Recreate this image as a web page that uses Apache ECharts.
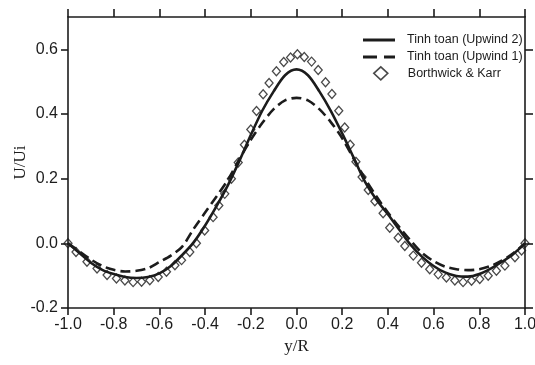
<!DOCTYPE html>
<html>
<head>
<meta charset="utf-8">
<script src="https://cdn.jsdelivr.net/npm/echarts@6/dist/echarts.min.js"></script>
<style>
html,body{margin:0;padding:0;background:#ffffff;}
#chart{width:535px;height:365px;}
</style>
</head>
<body>
<div id="chart"></div>
<script>
// ---- data ----
const xLine = [-1.0,-0.95,-0.9,-0.85,-0.8,-0.75,-0.7,-0.65,-0.6,-0.55,-0.5,-0.45,-0.4,-0.35,-0.3,-0.25,-0.2,-0.15,-0.1,-0.05,0,
               0.05,0.1,0.15,0.2,0.25,0.3,0.35,0.4,0.45,0.5,0.55,0.6,0.65,0.7,0.75,0.8,0.85,0.9,0.95,1.0];
const upwind2 = [0,-0.030,-0.060,-0.082,-0.095,-0.104,-0.107,-0.104,-0.093,-0.070,-0.036,0.003,0.055,0.115,0.180,0.255,0.335,0.410,0.470,0.520,0.538,
                 0.520,0.470,0.410,0.340,0.265,0.190,0.135,0.090,0.042,-0.005,-0.042,-0.070,-0.090,-0.101,-0.103,-0.095,-0.078,-0.057,-0.032,0];
const upwind1 = [0,-0.025,-0.050,-0.070,-0.082,-0.087,-0.085,-0.077,-0.058,-0.038,-0.010,0.045,0.095,0.145,0.197,0.260,0.320,0.372,0.415,0.442,0.450,
                 0.442,0.415,0.375,0.325,0.262,0.200,0.145,0.095,0.050,0.008,-0.030,-0.055,-0.072,-0.080,-0.083,-0.080,-0.070,-0.053,-0.030,0];
const xExp = [-1.0,-0.965,-0.917,-0.873,-0.829,-0.788,-0.751,-0.715,-0.678,-0.642,-0.605,-0.569,-0.532,-0.503,-0.467,-0.438,-0.402,-0.365,-0.340,-0.314,
              -0.285,-0.255,-0.228,-0.200,-0.175,-0.146,-0.120,-0.088,-0.056,-0.026,0.004,0.034,0.066,0.095,0.127,0.155,0.185,0.211,0.235,0.260,
              0.287,0.314,0.343,0.379,0.408,0.445,0.474,0.511,0.547,0.583,0.620,0.656,0.693,0.729,0.766,0.802,0.839,0.875,0.912,0.956,0.985,1.0];
const borthwick = [0.0,-0.027,-0.057,-0.078,-0.098,-0.109,-0.115,-0.120,-0.119,-0.114,-0.104,-0.088,-0.068,-0.052,-0.027,0.000,0.040,0.081,0.117,0.153,
                   0.200,0.250,0.305,0.352,0.409,0.461,0.496,0.532,0.561,0.575,0.585,0.576,0.562,0.536,0.498,0.462,0.410,0.358,0.305,0.252,
                   0.205,0.165,0.130,0.093,0.048,0.017,-0.008,-0.038,-0.060,-0.080,-0.096,-0.106,-0.115,-0.120,-0.116,-0.110,-0.100,-0.085,-0.069,-0.043,-0.022,0.0];
const yTicks = [-0.2,0.0,0.2,0.4,0.6];
const names = ['Tinh toan (Upwind 2)','Tinh toan (Upwind 1)','Borthwick & Karr'];

// ---- chart ----
const ink = '#1c1c1c';
const labelFont = {fontFamily:'Liberation Sans, Arial, sans-serif', fontSize:16, color:ink};
const axisLineStyle = {onZero:false, lineStyle:{color:ink, width:1.6}};
const legendText = {fontFamily:'Liberation Sans, Arial, sans-serif', fontSize:12.5, color:ink, lineHeight:14};
const chart = echarts.init(document.getElementById('chart'), null, {renderer:'canvas'});

const option = {
  backgroundColor:'#ffffff',
  animation:false,
  grid:{left:68, right:10, top:17, bottom:57, containLabel:false, outerBoundsMode:'none'},
  legend:[
    {
      data:[
        {name:names[0], icon:'path://M0,0H32V3H0Z'},
        {name:names[1], icon:'path://M0,0H14V3H0Z M21,0H32V3H21Z'}
      ],
      orient:'vertical', left:363, top:33,
      itemWidth:32, itemHeight:3, itemGap:3,
      padding:0,
      itemStyle:{color:ink, borderWidth:0},
      textStyle:Object.assign({padding:[0,0,0,7]}, legendText),
      selectedMode:false
    },
    {
      data:[{name:names[2]}],
      orient:'vertical', left:373, top:66,
      itemWidth:14, itemHeight:13,
      padding:0,
      itemStyle:{borderWidth:1.6},
      textStyle:Object.assign({padding:[0,0,0,15]}, legendText),
      selectedMode:false
    }
  ],
  xAxis:[
    {
      type:'value', min:-1, max:1, interval:0.2, position:'bottom',
      axisLine:axisLineStyle,
      axisTick:{show:true, inside:false, length:7, lineStyle:{color:ink, width:1.6}},
      axisLabel:Object.assign({margin:9, formatter:v=>v.toFixed(1)}, labelFont),
      splitLine:{show:false},
      name:'y/R', nameLocation:'middle', nameGap:24,
      nameTextStyle:{fontFamily:'Liberation Serif, Times New Roman, serif', fontSize:17, color:ink}
    },
    {
      type:'value', min:-1, max:1, interval:0.2, position:'top',
      axisLine:axisLineStyle,
      axisTick:{show:true, inside:false, length:8, lineStyle:{color:ink, width:1.6}},
      axisLabel:{show:false},
      splitLine:{show:false}
    }
  ],
  yAxis:[
    {
      type:'value', min:-0.2, max:0.7, position:'left',
      axisLine:axisLineStyle,
      axisTick:{show:true, inside:false, length:7, customValues:yTicks, lineStyle:{color:ink, width:1.6}},
      axisLabel:Object.assign({margin:10, customValues:yTicks, formatter:v=>v.toFixed(1)}, labelFont),
      splitLine:{show:false},
      name:'U/Ui', nameLocation:'middle', nameRotate:90, nameGap:39, nameMoveOverlap:false,
      nameTextStyle:{fontFamily:'Liberation Serif, Times New Roman, serif', fontSize:17, color:ink}
    },
    {
      type:'value', min:-0.2, max:0.7, position:'right',
      axisLine:axisLineStyle,
      axisTick:{show:true, inside:false, length:8, customValues:yTicks, lineStyle:{color:ink, width:1.6}},
      axisLabel:{show:false},
      splitLine:{show:false}
    }
  ],
  series:[
    {
      name:names[2], type:'scatter', xAxisIndex:0, yAxisIndex:0,
      data:xExp.map((x,i)=>[x,borthwick[i]]),
      symbol:'diamond', symbolSize:[8,9],
      itemStyle:{color:'rgba(255,255,255,0)', borderColor:ink, borderWidth:1.3},
      z:2
    },
    {
      name:names[0], type:'line', xAxisIndex:0, yAxisIndex:0,
      data:xLine.map((x,i)=>[x,upwind2[i]]),
      smooth:0.3, symbol:'none', showSymbol:false,
      lineStyle:{color:ink, width:2.6, type:'solid'},
      itemStyle:{color:ink},
      z:3
    },
    {
      name:names[1], type:'line', xAxisIndex:0, yAxisIndex:0,
      data:xLine.map((x,i)=>[x,upwind1[i]]),
      smooth:0.3, symbol:'none', showSymbol:false,
      lineStyle:{color:ink, width:2.6, type:[10,5]},
      itemStyle:{color:ink},
      z:3
    }
  ]
};
chart.setOption(option);
</script>
</body>
</html>
